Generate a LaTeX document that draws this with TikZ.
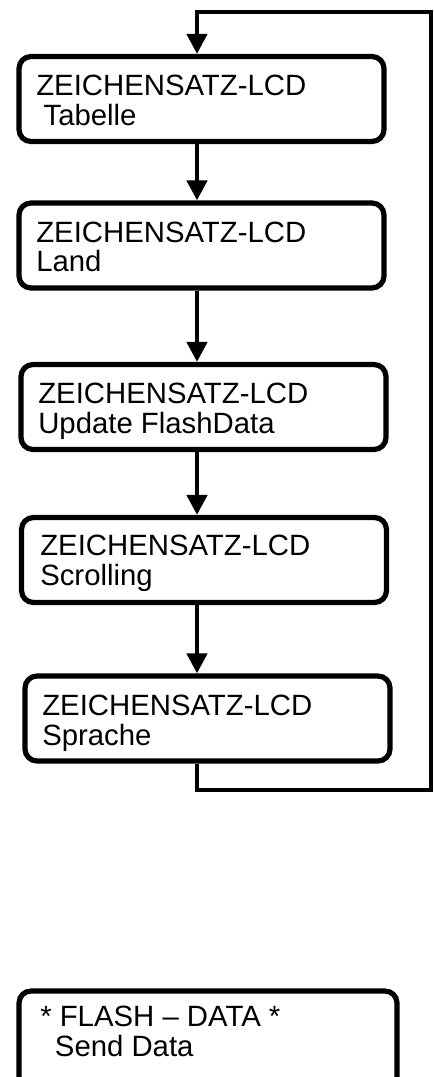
\documentclass[tikz,border=0pt]{standalone}
\usepackage{fontspec}
\setmainfont{Liberation Sans}
\usetikzlibrary{arrows.meta}

\tikzset{
  lcdbox/.style={draw, line width=3.9pt, rounded corners=9pt, inner sep=0pt, minimum width=273.75pt, minimum height=63.75pt},
  lcdtext/.style={anchor=north west, inner sep=0pt, align=left, font=\fontsize{22pt}{22pt}\selectfont},
  flow/.style={line width=3.4pt, line join=miter, -{Triangle[length=15pt,width=15pt]}},
}

\begin{document}
\begin{tikzpicture}[x=0.75pt,y=0.75pt,yscale=-1,xscale=1]
                        %set diagram size: 434 x 1077
                        \path[use as bounding box, clip] (0,0) rectangle (434,1077);

                        %Rounded Rect
                        \node[lcdbox] (tab) at (201.5,99) {};
                        %Rounded Rect
                        \node[lcdbox] (land) at (201.5,245.5) {};
                        %Rounded Rect
                        \node[lcdbox] (upd) at (203.5,407) {};
                        %Rounded Rect
                        \node[lcdbox] (scroll) at (204,560) {};
                        %Rounded Rect
                        \node[lcdbox] (lang) at (207.5,718.5) {};
                        %Rounded Rect
                        \node[lcdbox, minimum width=283.5pt, minimum height=74.25pt] (flash) at (208,1040.5) {};

                        % Text Node
                        \node[lcdtext] (tabtxt) at (36,75) {ZEICHENSATZ-LCD\\\hspace*{5.5pt}Tabelle};
                        % Text Node
                        \node[lcdtext] (landtxt) at (36,221.5) {ZEICHENSATZ-LCD\\Land};
                        % Text Node
                        \node[lcdtext] (updtxt) at (38,383) {ZEICHENSATZ-LCD\\Update FlashData};
                        % Text Node
                        \node[lcdtext] (scrolltxt) at (40,535) {ZEICHENSATZ-LCD\\Scrolling};
                        % Text Node
                        \node[lcdtext] (langtxt) at (42,695) {ZEICHENSATZ-LCD\\Sprache};
                        % Text Node
                        \node[lcdtext] (flashtxt) at (40,1006) {* FLASH – DATA *\\\hspace*{11pt}Send Data};

                        %Straight Lines
                        \coordinate (axis) at (197,0);
                        \coordinate (loopbot) at (431,790);
                        \coordinate (looptop) at (431,12);
                        \draw[flow] (tab.south -| axis) -- (land.north -| axis);
                        \draw[flow] (land.south -| axis) -- (upd.north -| axis);
                        \draw[flow] (upd.south -| axis) -- (scroll.north -| axis);
                        \draw[flow] (scroll.south -| axis) -- (lang.north -| axis);
                        %Loop back
                        \draw[flow] (lang.south -| axis) |- (loopbot) -- (looptop) -| (tab.north -| axis);
\end{tikzpicture}
\end{document}
